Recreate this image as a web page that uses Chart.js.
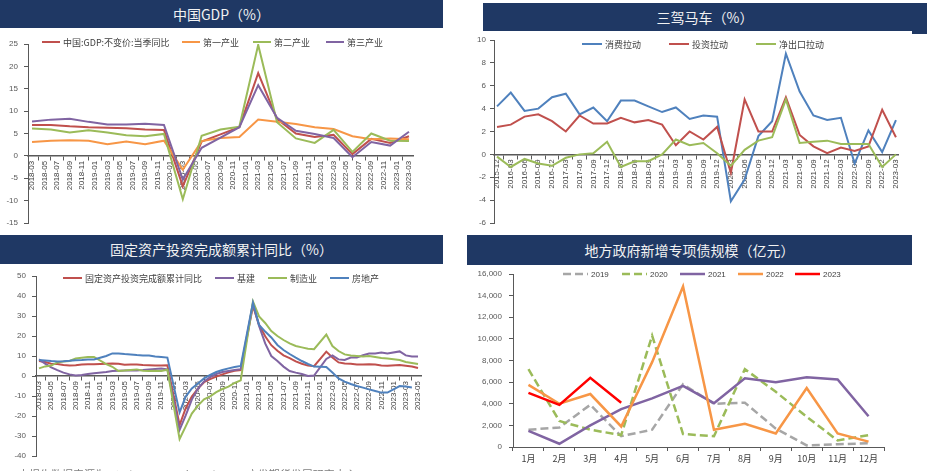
<!DOCTYPE html>
<html lang="zh">
<head>
<meta charset="UTF-8">
<title>宏观经济四图</title>
<script src="https://cdn.jsdelivr.net/npm/chart.js"></script>
<style>
  body { margin: 0; width: 930px; height: 471px; overflow: hidden; background: #fff; position: relative;
         font-family: "Noto Sans CJK SC", sans-serif; }
  .bar { position: absolute; background: #1F3864; color: #F2F2F2; font-size: 14px; text-align: center; }
  .panel { position: absolute; }
  .panel canvas { display: block; }
  .src { position: absolute; left: 18px; top: 466px; font-size: 11px; color: #808080; white-space: nowrap; }
</style>
</head>
<body>
<div class="bar" style="left:0;top:0;width:443px;height:28px;line-height:28px">中国GDP（%）</div>
<div class="bar" style="left:483px;top:3px;width:444px;height:28px;line-height:28px">三驾马车（%）</div>
<div class="bar" style="left:912px;top:31px;width:15px;height:3px"></div>
<div class="bar" style="left:0;top:235px;width:443px;height:29px;line-height:29px">固定资产投资完成额累计同比（%）</div>
<div class="bar" style="left:467px;top:235px;width:445px;height:30px;line-height:30px">地方政府新增专项债规模（亿元）</div>

<div class="panel" style="left:0;top:28px"><canvas id="gdp" width="445" height="202"></canvas></div>
<div class="panel" style="left:465px;top:31px"><canvas id="troika" width="465" height="199"></canvas></div>
<div class="panel" style="left:0;top:265px"><canvas id="fai" width="445" height="206"></canvas></div>
<div class="panel" style="left:465px;top:265px"><canvas id="bond" width="465" height="206"></canvas></div>
<div class="src">本报告数据来源为Wind、SMM、Bloomberg，广发期货发展研究中心</div>

<script>
// ---- 中国GDP (quarterly, %)
const gdpQuarters = ['2018-03','2018-06','2018-09','2018-12','2019-03','2019-06','2019-09','2019-12',
  '2020-03','2020-06','2020-09','2020-12','2021-03','2021-06','2021-09','2021-12',
  '2022-03','2022-06','2022-09','2022-12','2023-03'];
const gdpTotal   = [6.9, 6.9, 6.6, 6.4, 6.3, 6.2, 5.9, 5.8, -6.8, 3.2, 4.8, 6.4, 18.5, 8.2, 5.0, 4.2, 4.7, 0.4, 3.8, 2.9, 4.4];
const gdpPrimary = [3.1, 3.4, 3.5, 3.4, 2.6, 3.2, 2.6, 3.4, -3.1, 3.3, 4.0, 4.2, 8.1, 7.6, 7.1, 6.4, 6.0, 4.4, 3.7, 3.9, 3.7];
const gdpSecond  = [6.1, 5.9, 5.2, 5.7, 5.2, 4.6, 4.4, 4.9, -9.7, 4.5, 5.9, 6.5, 24.8, 7.5, 3.9, 2.9, 5.8, 0.9, 5.0, 3.4, 3.3];
const gdpThird   = [7.7, 8.1, 8.3, 7.6, 7.0, 7.0, 7.2, 6.9, -5.3, 1.8, 4.1, 6.4, 15.8, 8.5, 5.6, 4.9, 4.0, -0.3, 3.1, 2.3, 5.4];
const gdpAxisLabels = ['2018-03','2018-05','2018-07','2018-09','2018-11',
  '2019-01','2019-03','2019-05','2019-07','2019-09','2019-11',
  '2020-01','2020-03','2020-05','2020-07','2020-09','2020-11',
  '2021-01','2021-03','2021-05','2021-07','2021-09','2021-11',
  '2022-01','2022-03','2022-05','2022-07','2022-09','2022-11',
  '2023-01','2023-03'];

// ---- 三驾马车 (quarterly contribution, %)
const troikaQuarters = ['2015-12','2016-03','2016-06','2016-09','2016-12','2017-03','2017-06','2017-09','2017-12',
  '2018-03','2018-06','2018-09','2018-12','2019-03','2019-06','2019-09','2019-12',
  '2020-03','2020-06','2020-09','2020-12','2021-03','2021-06','2021-09','2021-12',
  '2022-03','2022-06','2022-09','2022-12','2023-03'];
const consumption = [4.2, 5.4, 3.8, 4.0, 5.0, 5.3, 3.5, 4.1, 2.9, 4.7, 4.7, 4.2, 3.7, 4.1, 3.1, 3.4, 3.3,
  -4.1, -2.2, 1.6, 2.9, 8.8, 5.5, 3.4, 3.0, 3.2, -0.8, 2.1, 0.2, 3.0];
const investment = [2.4, 2.6, 3.3, 3.5, 2.9, 2.0, 3.4, 2.7, 2.7, 3.2, 2.8, 3.0, 2.6, 0.8, 2.0, 1.3, 2.4,
  -1.6, 4.8, 2.0, 2.0, 5.0, 1.7, 0.7, 0.1, 0.6, 0.3, 0.7, 3.9, 1.5];
const netExport = [-0.2, -1.1, -0.4, -0.8, -1.0, -0.3, 0.0, 0.1, 1.1, -1.1, -0.6, -0.6, 0.0, 1.3, 0.8, 1.0, 0.1,
  -1.0, 0.4, 1.2, 1.5, 4.8, 1.0, 1.1, 1.2, 0.9, 0.9, 0.9, -1.1, 0.0];

// ---- 固定资产投资完成额累计同比 (monthly, no January print, %)
const faiMonths = [
  '2018-03','2018-04','2018-05','2018-06','2018-07','2018-08','2018-09','2018-10','2018-11','2018-12',
  '2019-02','2019-03','2019-04','2019-05','2019-06','2019-07','2019-08','2019-09','2019-10','2019-11','2019-12',
  '2020-02','2020-03','2020-04','2020-05','2020-06','2020-07','2020-08','2020-09','2020-10','2020-11','2020-12',
  '2021-02','2021-03','2021-04','2021-05','2021-06','2021-07','2021-08','2021-09','2021-10','2021-11','2021-12',
  '2022-02','2022-03','2022-04','2022-05','2022-06','2022-07','2022-08','2022-09','2022-10','2022-11','2022-12',
  '2023-02','2023-03','2023-04','2023-05'];
const faiTotal = [7.5, 7.0, 6.1, 6.0, 5.5, 5.3, 5.4, 5.7, 5.9, 5.9,
  6.1, 6.3, 6.1, 5.6, 5.8, 5.7, 5.5, 5.4, 5.2, 5.2, 5.4,
  -24.5, -16.1, -10.3, -6.3, -3.1, -1.6, -0.3, 0.8, 1.8, 2.6, 2.9,
  35.0, 25.6, 19.9, 15.4, 12.6, 10.3, 8.9, 7.3, 6.1, 5.2, 4.9,
  12.2, 9.3, 6.8, 6.2, 6.1, 5.7, 5.8, 5.9, 5.8, 5.3, 5.1,
  5.5, 5.1, 4.7, 4.0];
const faiInfra = [8.3, 6.2, 4.3, 2.9, 1.7, 0.8, 0.2, 0.5, 1.0, 1.4,
  2.0, 2.5, 2.6, 2.7, 2.8, 2.8, 3.0, 3.3, 3.5, 3.7, 3.3,
  -26.9, -19.7, -11.8, -6.3, -2.7, -0.6, 1.0, 2.0, 2.5, 3.0, 3.4,
  36.0, 25.0, 16.3, 10.0, 7.5, 4.7, 2.5, 1.7, 1.0, 0.0, 0.2,
  8.5, 10.3, 8.3, 8.0, 9.2, 9.3, 10.4, 11.2, 11.3, 11.7, 11.3,
  12.3, 10.3, 9.7, 9.7];
const faiManuf = [3.8, 4.8, 5.2, 6.8, 7.3, 7.5, 8.7, 9.1, 9.5, 9.5,
  5.9, 4.6, 2.5, 2.7, 3.0, 3.3, 2.6, 2.5, 2.6, 2.5, 3.1,
  -31.5, -25.2, -18.8, -14.8, -11.7, -10.2, -8.1, -6.5, -5.3, -3.5, -2.2,
  37.3, 29.8, 26.5, 22.5, 20.0, 18.0, 16.3, 15.0, 14.3, 13.6, 13.4,
  20.7, 15.0, 12.5, 10.8, 10.2, 10.0, 9.8, 10.0, 9.5, 9.0, 8.8,
  8.0, 7.0, 6.5, 6.0];
const faiEstate = [8.0, 7.8, 7.5, 7.3, 7.4, 7.6, 7.9, 8.0, 8.2, 8.3,
  10.0, 11.3, 11.3, 11.0, 10.8, 10.5, 10.3, 10.3, 9.8, 9.5, 9.2,
  -18.2, -10.3, -6.2, -3.7, -1.2, 0.5, 2.0, 3.0, 3.8, 4.5, 5.0,
  36.7, 25.5, 22.2, 19.3, 15.5, 13.0, 11.0, 9.2, 7.5, 6.0, 4.7,
  4.5, 1.7, -1.2, -2.8, -4.0, -5.0, -5.8, -6.7, -7.5, -8.3, -8.3,
  -5.0, -5.3, -5.7, null];
const faiAxisLabels = ['2018-03','2018-05','2018-07','2018-09','2018-11',
  '2019-01','2019-03','2019-05','2019-07','2019-09','2019-11',
  '2020-01','2020-03','2020-05','2020-07','2020-09','2020-11',
  '2021-01','2021-03','2021-05','2021-07','2021-09','2021-11',
  '2022-01','2022-03','2022-05','2022-07','2022-09','2022-11',
  '2023-01','2023-03','2023-05'];

// ---- 地方政府新增专项债规模 (亿元)
const bondMonths = ['1月','2月','3月','4月','5月','6月','7月','8月','9月','10月','11月','12月'];
const bond2019 = [1600, 1800, 3900, 1000, 1600, 5800, 4000, 4100, 1700, 150, 250, 350];
const bond2020 = [7200, 2400, 1600, 1100, 10300, 1200, 1000, 7200, 5100, 2800, 600, 1100];
const bond2021 = [1500, 300, 2000, 3500, 4500, 5650, 4050, 6350, 6000, 6450, 6250, 2850];
const bond2022 = [5750, 4000, 4900, 1900, 7850, 14850, 1600, 2150, 1250, 5450, 1250, 500];
const bond2023 = [5000, 3900, 6400, 4100];

// ---- helpers
const AXIS = '#595959';
const TXT = '#404040';
const tickFont = { family: 'Liberation Sans, Arial, sans-serif', size: 8 };

function monthIndex(s, base) {
  const [y, m] = s.split('-').map(Number);
  const [by, bm] = base.split('-').map(Number);
  return (y - by) * 12 + (m - bm);
}

function toPoints(xs, ys) {
  const pts = [];
  ys.forEach((v, i) => { if (v !== null) pts.push({ x: xs[i], y: v }); });
  return pts;
}

function line(label, color, data, i, n, extra) {
  return Object.assign({
    label, data, borderColor: color, backgroundColor: color, borderWidth: 2,
    pointRadius: 0, pointHoverRadius: 0, tension: 0, fill: false, order: n - i
  }, extra || {});
}

// legend drawn on the canvas at fixed spots
const lineLegend = {
  id: 'lineLegend',
  afterDraw(chart, args, opts) {
    const ctx = chart.ctx;
    ctx.save();
    ctx.font = opts.font;
    ctx.textBaseline = 'middle';
    chart.data.datasets.forEach((d, i) => {
      const x = opts.xs[i];
      ctx.strokeStyle = d.borderColor;
      ctx.lineWidth = d.borderWidth;
      ctx.setLineDash(d.borderDash || []);
      ctx.beginPath();
      ctx.moveTo(x, opts.y);
      ctx.lineTo(x + opts.len, opts.y);
      ctx.stroke();
      ctx.setLineDash([]);
      ctx.fillStyle = TXT;
      ctx.fillText(d.label, x + opts.len + 3, opts.y + 0.5);
    });
    ctx.restore();
  }
};

function yAxis(min, max, step, width, pad) {
  return {
    type: 'linear', min, max,
    afterBuildTicks: axis => {
      const t = [];
      for (let v = min; v <= max + 1e-9; v += step) t.push({ value: v });
      axis.ticks = t;
    },
    // fixed width, and no extra room reserved for the end labels
    afterFit: s => { s.width = width; s.paddingTop = 0; s.paddingBottom = 0; },
    ticks: { color: AXIS, font: tickFont, padding: pad, autoSkip: false },
    grid: { drawOnChartArea: false, tickLength: 4, color: AXIS },
    border: { color: AXIS, width: 1 }
  };
}

// x axis that crosses at zero: labelled ticks plus unlabelled tick marks in between
function zeroAxis(labelPos, labels, min, max) {
  return {
    type: 'linear', position: { y: 0 }, min, max,
    afterBuildTicks: axis => {
      const t = [];
      labelPos.forEach((v, i) => {
        t.push({ value: v, lab: labels[i] });
        if (i < labelPos.length - 1) t.push({ value: (v + labelPos[i + 1]) / 2, lab: '' });
      });
      axis.ticks = t;
    },
    ticks: {
      autoSkip: false, maxRotation: 90, minRotation: 90, padding: 1, color: TXT, font: tickFont,
      callback: (v, i, ticks) => ticks[i].lab
    },
    grid: {
      drawOnChartArea: false, tickLength: 4,
      tickColor: c => (c.tick && c.tick.lab) ? 'rgba(0,0,0,0)' : AXIS
    },
    border: { color: AXIS, width: 1.5 }
  };
}

const common = {
  responsive: false, animation: false, devicePixelRatio: 1, events: []
};

// ---- chart 1: GDP
const gdpX = gdpQuarters.map(s => monthIndex(s, '2018-03'));
const gdpSets = [
  ['中国:GDP:不变价:当季同比', '#C0504D', gdpTotal],
  ['第一产业', '#F79646', gdpPrimary],
  ['第二产业', '#9BBB59', gdpSecond],
  ['第三产业', '#8064A2', gdpThird]
];
new Chart(document.getElementById('gdp'), {
  type: 'line',
  data: { datasets: gdpSets.map((s, i) => line(s[0], s[1], toPoints(gdpX, s[2]), i, gdpSets.length)) },
  options: Object.assign({}, common, {
    layout: { padding: { top: 16, right: 32, bottom: 7, left: 0 } },
    scales: {
      x: zeroAxis(gdpAxisLabels.map(s => monthIndex(s, '2018-03')), gdpAxisLabels, -0.64, 60.64),
      y: yAxis(-15, 25, 5, 28, 6)
    },
    plugins: {
      legend: { display: false }, tooltip: { enabled: false },
      lineLegend: { xs: [42, 182, 253, 326], y: 14, len: 18, font: '9px "Noto Sans CJK SC"' }
    }
  }),
  plugins: [lineLegend]
});

// ---- chart 2: 三驾马车
const trX = troikaQuarters.map((s, i) => i);
const trSets = [
  ['消费拉动', '#4F81BD', consumption],
  ['投资拉动', '#C0504D', investment],
  ['净出口拉动', '#9BBB59', netExport]
];
new Chart(document.getElementById('troika'), {
  type: 'line',
  data: { datasets: trSets.map((s, i) => line(s[0], s[1], toPoints(trX, s[2]), i, trSets.length)) },
  options: Object.assign({}, common, {
    layout: { padding: { top: 9, right: 32, bottom: 7, left: 0 } },
    scales: {
      x: zeroAxis(trX, troikaQuarters, -0.22, 29.15),
      y: yAxis(-6, 10, 2, 29, 4)
    },
    plugins: {
      legend: { display: false }, tooltip: { enabled: false },
      lineLegend: { xs: [117, 204, 291], y: 13, len: 20, font: '9px "Noto Sans CJK SC"' }
    }
  }),
  plugins: [lineLegend]
});

// ---- chart 3: 固定资产投资
const faiX = faiMonths.map(s => monthIndex(s, '2018-03'));
const faiSets = [
  ['固定资产投资完成额累计同比', '#C0504D', faiTotal],
  ['基建', '#8064A2', faiInfra],
  ['制造业', '#9BBB59', faiManuf],
  ['房地产', '#4F81BD', faiEstate]
];
new Chart(document.getElementById('fai'), {
  type: 'line',
  data: { datasets: faiSets.map((s, i) => line(s[0], s[1], toPoints(faiX, s[2]), i, faiSets.length)) },
  options: Object.assign({}, common, {
    layout: { padding: { top: 11, right: 24, bottom: 15, left: 0 } },
    scales: {
      x: zeroAxis(faiAxisLabels.map(s => monthIndex(s, '2018-03')), faiAxisLabels, -0.49, 62.49),
      y: yAxis(-40, 50, 10, 36, 6)
    },
    plugins: {
      legend: { display: false }, tooltip: { enabled: false },
      lineLegend: { xs: [63, 215, 268, 330], y: 13, len: 19, font: '9px "Noto Sans CJK SC"' }
    }
  }),
  plugins: [lineLegend]
});

// ---- chart 4: 专项债
const bondSets = [
  ['2019', '#A6A6A6', bond2019, { borderDash: [8, 4] }],
  ['2020', '#9BBB59', bond2020, { borderDash: [8, 4] }],
  ['2021', '#8064A2', bond2021],
  ['2022', '#F79646', bond2022],
  ['2023', '#FF0000', bond2023]
];
const bondY = yAxis(0, 16000, 2000, 48, 7);
bondY.ticks.callback = v => v.toLocaleString('en-US');
new Chart(document.getElementById('bond'), {
  type: 'line',
  data: {
    labels: bondMonths,
    datasets: bondSets.map((s, i) => line(s[0], s[1], s[2], i, bondSets.length,
      Object.assign({ borderWidth: 2.5 }, s[3] || {})))
  },
  options: Object.assign({}, common, {
    layout: { padding: { top: 9, right: 46, bottom: 4, left: 0 } },
    scales: {
      x: {
        type: 'category', offset: true,
        afterFit: s => { s.height = 20; },
        ticks: { color: TXT, font: { family: '"Noto Sans CJK SC", sans-serif', size: 9 }, padding: 2, maxRotation: 0 },
        grid: { offset: true, drawOnChartArea: false, tickLength: 4, color: AXIS },
        border: { color: AXIS, width: 1 }
      },
      y: bondY
    },
    plugins: {
      legend: { display: false }, tooltip: { enabled: false },
      lineLegend: { xs: [98, 157, 215, 273, 330], y: 9, len: 25, font: '8px "Liberation Sans", Arial' }
    }
  }),
  plugins: [lineLegend]
});
</script>
</body>
</html>
